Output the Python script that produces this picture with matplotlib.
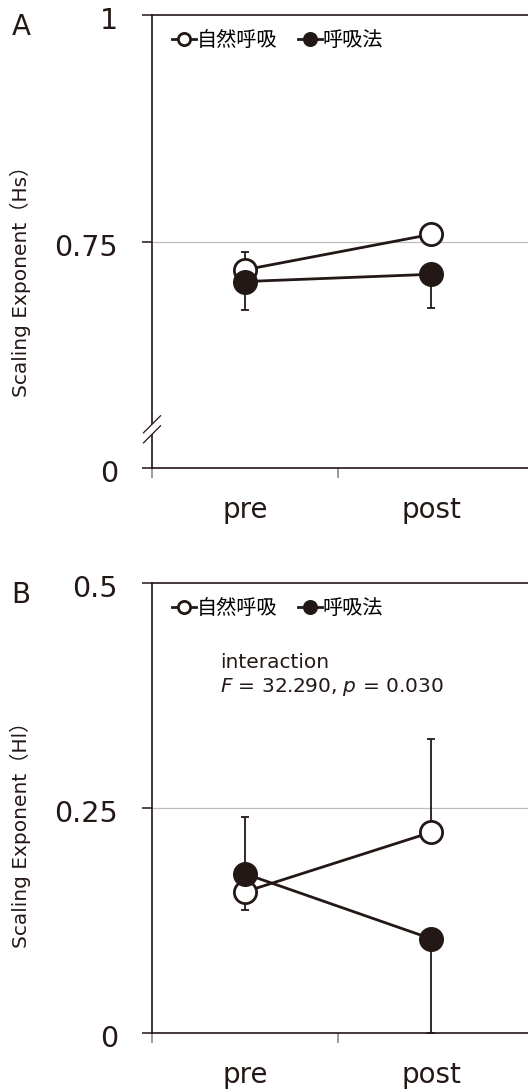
import matplotlib
matplotlib.use('Agg')
import matplotlib.pyplot as plt
import matplotlib.transforms as mtransforms
from matplotlib.lines import Line2D
from matplotlib.patches import Polygon

plt.rcParams['font.family'] = ['DejaVu Sans', 'Noto Sans CJK JP']
plt.rcParams['mathtext.fontset'] = 'dejavusans'

INK = '#231815'

# ---- data -------------------------------------------------------------
phases = ['pre', 'post']
series_names = ['自然呼吸', '呼吸法']

# panel A: Hs
hs_natural = [0.719, 0.758]
hs_natural_err_lo = [0.0, 0.0]
hs_natural_err_hi = [0.020, 0.0]
hs_method = [0.706, 0.714]
hs_method_err_lo = [0.031, 0.0375]
hs_method_err_hi = [0.0, 0.0]

# panel B: Hl
hl_natural = [0.157, 0.223]
hl_natural_err_lo = [0.020, 0.0]
hl_natural_err_hi = [0.0, 0.104]
hl_method = [0.177, 0.105]
hl_method_err_lo = [0.0, 0.105]
hl_method_err_hi = [0.063, 0.0]

stats_text = 'interaction\n$F$ = 32.290, $p$ = 0.030'


def draw_panel(fig, ax, nat, nat_lo, nat_hi, met, met_lo, met_hi,
               ylim, yticks, yticklabels, grid_y):
    x = [1, 2]
    ax.set_xlim(0.5, 0.5 + 376 / 186)
    ax.set_ylim(*ylim)

    ax.axhline(grid_y, color='#bdbdbd', lw=0.9, zorder=0)

    ax.errorbar(x, nat, yerr=[nat_lo, nat_hi], fmt='none', ecolor=INK,
                elinewidth=1.3, capsize=3, capthick=1.3, zorder=1)
    ax.errorbar(x, met, yerr=[met_lo, met_hi], fmt='none', ecolor=INK,
                elinewidth=1.3, capsize=3, capthick=1.3, zorder=1)

    h1, = ax.plot(x, nat, '-o', color=INK, lw=2, ms=16, mfc='white',
                  mec=INK, mew=2, zorder=3, label=series_names[0])
    h2, = ax.plot(x, met, '-o', color=INK, lw=2, ms=16, mfc=INK,
                  mec=INK, mew=2, zorder=4, label=series_names[1])

    ax.legend(handles=[h1, h2], loc='upper left', bbox_to_anchor=(0.015, 0.995),
              ncol=2, frameon=False, fontsize=14.5, markerscale=0.55,
              handlelength=1.2, handletextpad=0.05, columnspacing=1.0,
              borderaxespad=0.3)

    for s in ['left', 'bottom', 'top']:
        ax.spines[s].set_color(INK)
        ax.spines[s].set_linewidth(1.2)
    ax.spines['right'].set_visible(False)

    ax.set_yticks(yticks)
    ax.set_yticklabels(yticklabels)
    ax.tick_params(axis='y', direction='out', length=7.5, width=1.1,
                   color=INK, labelsize=20.5, pad=17, labelcolor=INK)
    # labels sit a touch below their ticks in the original
    shift = mtransforms.ScaledTranslation(0, -3 / 100, fig.dpi_scale_trans)
    for lab in ax.get_yticklabels():
        lab.set_transform(lab.get_transform() + shift)

    ax.set_xticks(x)
    ax.set_xticklabels(phases)
    ax.tick_params(axis='x', which='major', length=0, labelsize=20, pad=20,
                   labelcolor=INK)
    ax.set_xticks([0.5, 1.5], minor=True)
    ax.tick_params(axis='x', which='minor', direction='out', length=7.5,
                   width=1.1, color='#808080')
    ax.xaxis.get_minor_ticks()[0].tick1line.set_color(INK)


fig = plt.figure(figsize=(5.28, 10.92), dpi=100)
W, H = 528, 1092
left = 152 / W

axA = fig.add_axes([left, 1 - 468.3 / H, 1 - left, (468.3 - 15) / H])
draw_panel(fig, axA, hs_natural, hs_natural_err_lo, hs_natural_err_hi,
           hs_method, hs_method_err_lo, hs_method_err_hi,
           (0.5, 1.0), [0.5, 0.75, 1.0], ['0', '0.75', '1'], 0.75)

axB = fig.add_axes([left, 1 - 1033.3 / H, 1 - left, (1033.3 - 582.7) / H])
draw_panel(fig, axB, hl_natural, hl_natural_err_lo, hl_natural_err_hi,
           hl_method, hl_method_err_lo, hl_method_err_hi,
           (0.0, 0.5), [0.0, 0.25, 0.5], ['0', '0.25', '0.5'], 0.25)

axB.text(0.18, 0.793, stats_text, transform=axB.transAxes, fontsize=14.5,
         color=INK, va='center', ha='left', linespacing=1.25)

# axis break marks on panel A
axw, axh = 376, 453.3
dx, dy = 8.5 / axw, 8.5 / axh
yc1, yc2 = 34 / axh, 44 / axh
gap = Polygon([(-dx, yc1 - dy), (dx, yc1 + dy), (dx, yc2 + dy), (-dx, yc2 - dy)],
              closed=True, transform=axA.transAxes, facecolor='white',
              edgecolor='none', clip_on=False, zorder=5)
axA.add_patch(gap)
for yc in (yc1, yc2):
    axA.add_line(Line2D([-dx, dx], [yc - dy, yc + dy],
                        transform=axA.transAxes, color=INK, lw=0.9,
                        clip_on=False, zorder=6))

# y labels and panel letters
fig.text(20 / W, 1 - 276 / H, 'Scaling Exponent（Hs）', rotation=90,
         ha='center', va='center', fontsize=14.5, color=INK)
fig.text(20 / W, 1 - 830 / H, 'Scaling Exponent（Hl）', rotation=90,
         ha='center', va='center', fontsize=14.5, color=INK)
fig.text(21 / W, 1 - 27 / H, 'A', ha='center', va='center', fontsize=20, color=INK)
fig.text(21 / W, 1 - 595 / H, 'B', ha='center', va='center', fontsize=20, color=INK)

fig.savefig('out.png', dpi=100)
